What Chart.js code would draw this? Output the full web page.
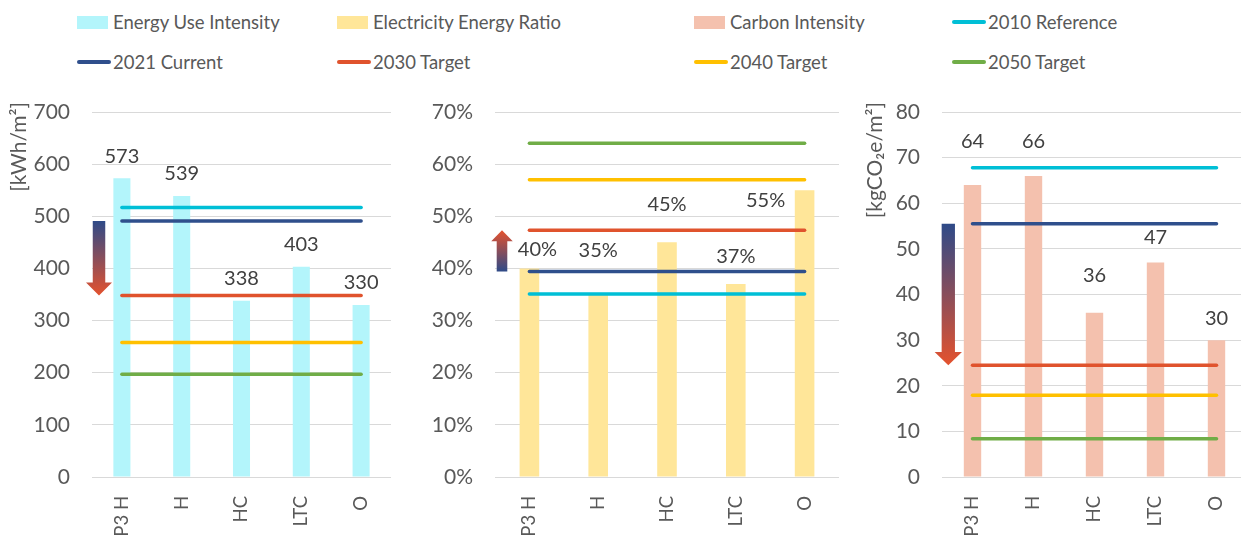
<!DOCTYPE html>
<html>
<head>
<meta charset="utf-8">
<title>Building energy and carbon benchmarks</title>
<script src="https://cdn.jsdelivr.net/npm/chart.js@4.4.1/dist/chart.umd.min.js"></script>
<style>
  html, body { margin: 0; padding: 0; background: #ffffff; overflow: hidden; }
  #wrap { position: relative; width: 1241px; height: 536px; overflow: hidden; font-family: Lato, "Open Sans", sans-serif; }
  #wrap canvas { position: absolute; top: 90px; }
  .lg-item { position: absolute; height: 24px; display: flex; align-items: center; color: #595959; font-size: 18.5px; white-space: nowrap; }
  .lg-box { width: 31px; height: 13px; margin-right: 5px; }
  .lg-line { width: 34px; height: 4px; border-radius: 2px; margin-right: 2px; }
</style>
</head>
<body>
<div id="wrap">
  <div id="legend"></div>
  <canvas id="euiChart" width="391" height="446" style="left:0px"></canvas>
  <canvas id="ratioChart" width="419" height="446" style="left:420px"></canvas>
  <canvas id="carbonChart" width="407" height="446" style="left:840px"></canvas>
</div>
<script>
// ---- data ----
const categories = ['P3 H', 'H', 'HC', 'LTC', 'O'];

const metricNames = ['Energy Use Intensity', 'Electricity Energy Ratio', 'Carbon Intensity'];
const energyUseIntensity = [573, 539, 338, 403, 330];   // kWh/m²
const electricityEnergyRatio = [40, 35, 45, 37, 55];    // %
const carbonIntensity = [64, 66, 36, 47, 30];           // kgCO2e/m²

const benchmarkNames = ['2010 Reference', '2021 Current', '2030 Target', '2040 Target', '2050 Target'];
const euiBenchmarks = [517, 491, 348, 258, 197];
const ratioBenchmarks = [35.1, 39.4, 47.3, 57, 64];
const carbonBenchmarks = [67.8, 55.5, 24.5, 17.9, 8.4];

const euiTicks = [0, 100, 200, 300, 400, 500, 600, 700];
const ratioTicks = [0, 10, 20, 30, 40, 50, 60, 70];
const carbonTicks = [0, 10, 20, 30, 40, 50, 60, 70, 80];

// ---- styles ----
const metricColors = ['#b3f5fb', '#ffe699', '#f4c1ae'];
const benchmarkColors = ['#00bfd6', '#2f4f8c', '#e0532d', '#ffc000', '#70ad47'];
const textGrey = '#595959';
const labelGrey = '#404040';
const FONT = 'Lato, "Open Sans", sans-serif';

// ---- legend (shared by the three panels) ----
(function buildLegend() {
  const items = metricNames.map((n, i) => ({ name: n, color: metricColors[i], box: true }))
    .concat(benchmarkNames.map((n, i) => ({ name: n, color: benchmarkColors[i], box: false })));
  const colLeft = [77, 337, 694, 952];
  const rowTop = [10, 49.5];
  const host = document.getElementById('legend');
  items.forEach((it, k) => {
    const el = document.createElement('div');
    el.className = 'lg-item';
    el.style.left = colLeft[k % 4] + 'px';
    el.style.top = rowTop[Math.floor(k / 4)] + 'px';
    const sw = document.createElement('span');
    sw.className = it.box ? 'lg-box' : 'lg-line';
    sw.style.background = it.color;
    const tx = document.createElement('span');
    tx.textContent = it.name;
    el.appendChild(sw);
    el.appendChild(tx);
    host.appendChild(el);
  });
})();

// ---- plugins ----
// value labels above the bars
const barLabels = {
  id: 'barLabels',
  afterDatasetsDraw(chart, args, opts) {
    const ctx = chart.ctx;
    const meta = chart.getDatasetMeta(0);
    const values = chart.data.datasets[0].data;
    ctx.save();
    ctx.font = '20px ' + FONT;
    ctx.fillStyle = labelGrey;
    ctx.textAlign = 'center';
    ctx.textBaseline = 'middle';
    meta.data.forEach((el, i) => {
      const [dx, dy] = opts.shift[i];
      ctx.fillText(opts.format(values[i]), el.x + dx, el.y - dy);
    });
    ctx.restore();
  }
};

// gradient arrow from the current level to the 2030 target
const trendArrow = {
  id: 'trendArrow',
  beforeDatasetsDraw(chart, args, opts) {
    const { ctx, chartArea, scales } = chart;
    const y0 = scales.y.getPixelForValue(opts.from);
    const y1 = scales.y.getPixelForValue(opts.to);
    const dir = Math.sign(y1 - y0);
    const cx = chartArea.left + opts.dx;
    const hs = opts.shaft / 2, hh = opts.head / 2;
    const yb = y1 - dir * opts.headLength;
    const g = ctx.createLinearGradient(0, y0, 0, y1);
    g.addColorStop(0, '#2e4a88');
    g.addColorStop(1, '#e4522e');
    ctx.save();
    ctx.fillStyle = g;
    ctx.beginPath();
    ctx.moveTo(cx - hs, y0);
    ctx.lineTo(cx + hs, y0);
    ctx.lineTo(cx + hs, yb);
    ctx.lineTo(cx + hh, yb);
    ctx.lineTo(cx, y1);
    ctx.lineTo(cx - hh, yb);
    ctx.lineTo(cx - hs, yb);
    ctx.closePath();
    ctx.fill();
    ctx.restore();
  }
};

// unit label at the top of the value axis
const unitTitle = {
  id: 'unitTitle',
  afterDraw(chart, args, opts) {
    if (!opts.text) return;
    const { ctx, chartArea } = chart;
    ctx.save();
    ctx.translate(opts.x, chartArea.top - opts.lift);
    ctx.rotate(-Math.PI / 2);
    ctx.font = '21px ' + FONT;
    ctx.fillStyle = textGrey;
    ctx.textAlign = 'right';
    ctx.textBaseline = 'middle';
    ctx.fillText(opts.text, 0, 0);
    ctx.restore();
  }
};

// ---- panel factory ----
function makePanel(id, p) {
  const datasets = [{
    type: 'bar',
    label: p.name,
    data: p.values,
    backgroundColor: p.color,
    barPercentage: 0.285,
    categoryPercentage: 1,
    order: 10
  }].concat(benchmarkNames.map((n, i) => ({
    type: 'line',
    label: n,
    data: categories.map(() => p.benchmarks[i]),
    borderColor: benchmarkColors[i],
    borderWidth: 3.5,
    borderCapStyle: 'round',
    pointRadius: 0,
    fill: false,
    order: 5 - i
  })));

  return new Chart(document.getElementById(id), {
    data: { labels: categories, datasets },
    options: {
      responsive: false,
      devicePixelRatio: 1,
      animation: false,
      layout: { padding: { top: 22, left: 0, right: 0, bottom: 0 } },
      scales: {
        x: {
          type: 'category',
          grid: { display: false },
          border: { display: false },
          ticks: {
            autoSkip: false,
            minRotation: 90,
            maxRotation: 90,
            padding: 11,
            color: textGrey,
            font: { family: FONT, size: 18.5 }
          },
          afterFit(s) { s.height = 59; s.paddingLeft = 0; s.paddingRight = 0; }
        },
        y: {
          min: p.ticks[0],
          max: p.ticks[p.ticks.length - 1],
          grid: { color: '#d9d9d9', lineWidth: 1, drawTicks: false },
          border: { display: false },
          ticks: {
            stepSize: p.ticks[1] - p.ticks[0],
            padding: 22,
            color: textGrey,
            font: { family: FONT, size: 21 },
            callback: p.tickFormat
          },
          afterFit(s) { s.width = p.axisWidth; s.paddingTop = 0; s.paddingBottom = 0; }
        }
      },
      plugins: {
        legend: { display: false },
        tooltip: { enabled: false },
        barLabels: { shift: p.labelShift, format: p.labelFormat },
        trendArrow: p.arrow,
        unitTitle: p.title
      }
    },
    plugins: [trendArrow, barLabels, unitTitle]
  });
}

makePanel('euiChart', {
  name: metricNames[0],
  values: energyUseIntensity,
  color: metricColors[0],
  benchmarks: euiBenchmarks,
  ticks: euiTicks,
  axisWidth: 92,
  tickFormat: v => v,
  labelFormat: v => String(v),
  labelShift: [[0, 22], [0, 22], [0, 22], [0, 22], [0, 22]],
  arrow: { from: euiBenchmarks[1], to: euiBenchmarks[2], dx: 7, shaft: 12.5, head: 26, headLength: 13 },
  title: { text: '[kWh/m²]', x: 19, lift: 10 }
});

makePanel('ratioChart', {
  name: metricNames[1],
  values: electricityEnergyRatio,
  color: metricColors[1],
  benchmarks: ratioBenchmarks,
  ticks: ratioTicks,
  axisWidth: 75,
  tickFormat: v => v + '%',
  labelFormat: v => Math.round(v) + '%',
  labelShift: [[8, 19], [0, 44], [0, 38], [0, 28], [-39, -10]],
  arrow: { from: ratioBenchmarks[1], to: ratioBenchmarks[2], dx: 7, shaft: 10.6, head: 21.5, headLength: 11 },
  title: { text: '' }
});

makePanel('carbonChart', {
  name: metricNames[2],
  values: carbonIntensity,
  color: metricColors[2],
  benchmarks: carbonBenchmarks,
  ticks: carbonTicks,
  axisWidth: 102,
  tickFormat: v => v,
  labelFormat: v => String(v),
  labelShift: [[0, 43], [0, 34], [0, 37], [0, 25], [0, 22]],
  arrow: { from: carbonBenchmarks[1], to: carbonBenchmarks[2], dx: 6.3, shaft: 13.3, head: 27.3, headLength: 13.3 },
  title: { text: '[kgCO₂e/m²]', x: 35, lift: 10 }
});
</script>
</body>
</html>
